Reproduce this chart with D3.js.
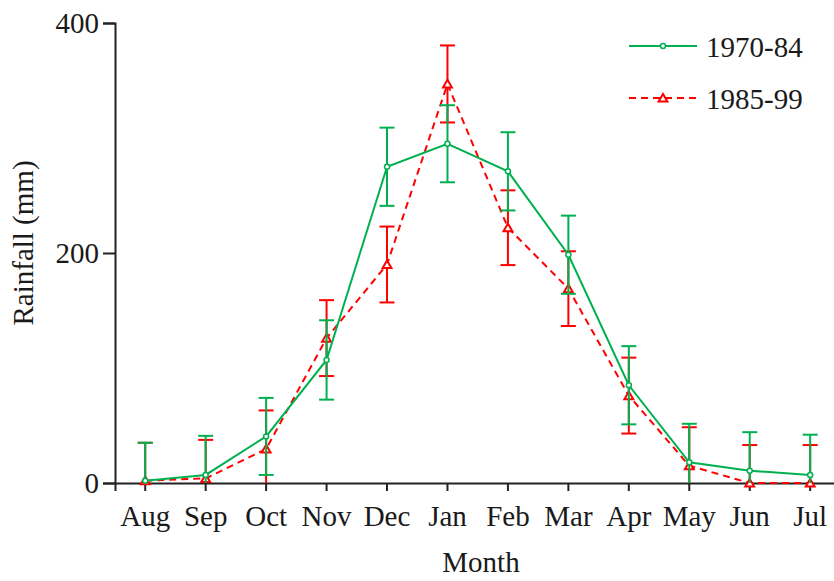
<!DOCTYPE html>
<html>
<head>
<meta charset="utf-8">
<script src="https://cdn.jsdelivr.net/npm/d3@7"></script>
<style>
  body { margin: 0; background: #fff; }
  text { font-family: "Liberation Serif", "Times New Roman", serif; fill: #1a1a1a; }
</style>
</head>
<body>
<div id="chart"></div>
<script>
var w = 834,
	h = 581;

// 월 (x축)
var months = ["Aug","Sep","Oct","Nov","Dec","Jan","Feb","Mar","Apr","May","Jun","Jul"];

// 1970-84 평균과 오차
var rain7084 = [2, 7, 40.5, 107, 275, 295, 271, 198.5, 85, 18, 10.7, 7];
var err7084  = [33, 34, 33.5, 34.5, 34, 33.5, 34, 34, 34, 33.5, 33.5, 35];

// 1985-99 평균과 오차
var rain8599 = [2, 4, 29.6, 126, 190, 347, 222, 169, 76, 15, 0, 0];
var err8599  = [33, 33.5, 33.5, 33, 33, 33.5, 32.5, 32.5, 33, 33.5, 33, 33];

var yTicks = [0, 200, 400];
var seriesNames = ["1970-84", "1985-99"];

var margin = {left: 115, top: 23, bottom: 98};

var svg = d3.select("#chart").append("svg")
	.attr("width", w)
	.attr("height", h);

var x = d3.scaleBand()
	.domain(months)
	.range([margin.left, margin.left + 12 * 60.45]);

var y = d3.scaleLinear()
	.domain([0, 400])
	.range([h - margin.bottom, margin.top]);

function cx(m) { return x(m) + x.bandwidth() / 2; }

var series = [
	{name: seriesNames[1], vals: rain8599, errs: err8599, color: "#ff0000", dash: "7,5", marker: "triangle"},
	{name: seriesNames[0], vals: rain7084, errs: err7084, color: "#00b050", dash: null, marker: "circle"}
];

// 축
var xAxis = svg.append("g")
	.attr("transform", "translate(0," + y(0) + ")")
	.call(d3.axisBottom(x).tickSizeOuter(0).tickSize(8).tickPadding(14));
xAxis.selectAll("text").attr("font-size", "29px").attr("dy", "0.71em");

var yAxis = svg.append("g")
	.attr("transform", "translate(" + margin.left + ",0)")
	.call(d3.axisLeft(y).tickValues(yTicks).tickSizeOuter(0).tickSize(12).tickPadding(4));
yAxis.selectAll("text").attr("font-size", "29px");

svg.selectAll(".domain, .tick line")
	.attr("stroke", "#222")
	.attr("stroke-width", 2);

// 축 제목
svg.append("text")
	.attr("x", 481)
	.attr("y", 572)
	.attr("text-anchor", "middle")
	.attr("font-size", "29px")
	.text("Month");

svg.append("text")
	.attr("transform", "translate(33,243) rotate(-90)")
	.attr("text-anchor", "middle")
	.attr("font-size", "29px")
	.text("Rainfall (mm)");

var line = d3.line()
	.x(function(d) { return cx(d.m); })
	.y(function(d) { return y(d.v); });

var tri = d3.symbol().type(d3.symbolTriangle).size(34);

series.forEach(function(s) {
	var pts = months.map(function(m, i) { return {m: m, v: s.vals[i], e: s.errs[i]}; });
	var g = svg.append("g");

	// 오차막대
	pts.forEach(function(p) {
		var px = cx(p.m);
		var lo = Math.max(0, p.v - p.e);
		var hi = p.v + p.e;
		g.append("line")
			.attr("x1", px).attr("x2", px)
			.attr("y1", y(lo)).attr("y2", y(hi))
			.attr("stroke", s.color).attr("stroke-width", 2);
		g.append("line")
			.attr("x1", px - 7.5).attr("x2", px + 7.5)
			.attr("y1", y(hi)).attr("y2", y(hi))
			.attr("stroke", s.color).attr("stroke-width", 2);
		if (p.v - p.e > 0) {
			g.append("line")
				.attr("x1", px - 7.5).attr("x2", px + 7.5)
				.attr("y1", y(lo)).attr("y2", y(lo))
				.attr("stroke", s.color).attr("stroke-width", 2);
		}
	});

	g.append("path")
		.datum(pts)
		.attr("d", line)
		.attr("fill", "none")
		.attr("stroke", s.color)
		.attr("stroke-width", 2)
		.attr("stroke-dasharray", s.dash);

	pts.forEach(function(p) {
		if (s.marker == "circle") {
			g.append("circle")
				.attr("cx", cx(p.m)).attr("cy", y(p.v)).attr("r", 2.5)
				.attr("fill", "#fff").attr("stroke", s.color).attr("stroke-width", 1.5);
		} else {
			g.append("path")
				.attr("d", tri)
				.attr("transform", "translate(" + cx(p.m) + "," + (y(p.v) + 1) + ")")
				.attr("fill", "#fff").attr("stroke", s.color).attr("stroke-width", 2);
		}
	});
});

// 범례
var legend = svg.append("g").attr("class", "legend");
var legendRows = [series[1], series[0]];
legendRows.forEach(function(s, i) {
	var ly = 46 + i * 52;
	legend.append("line")
		.attr("x1", 629).attr("x2", 697)
		.attr("y1", ly).attr("y2", ly)
		.attr("stroke", s.color).attr("stroke-width", 2)
		.attr("stroke-dasharray", s.dash);
	if (s.marker == "circle") {
		legend.append("circle")
			.attr("cx", 663).attr("cy", ly).attr("r", 2.5)
			.attr("fill", "#fff").attr("stroke", s.color).attr("stroke-width", 1.5);
	} else {
		legend.append("path")
			.attr("d", tri)
			.attr("transform", "translate(663," + (ly + 1) + ")")
			.attr("fill", "#fff").attr("stroke", s.color).attr("stroke-width", 2);
	}
	legend.append("text")
		.attr("x", 706)
		.attr("y", ly + 11)
		.attr("font-size", "29px")
		.text(s.name);
});
</script>
</body>
</html>
